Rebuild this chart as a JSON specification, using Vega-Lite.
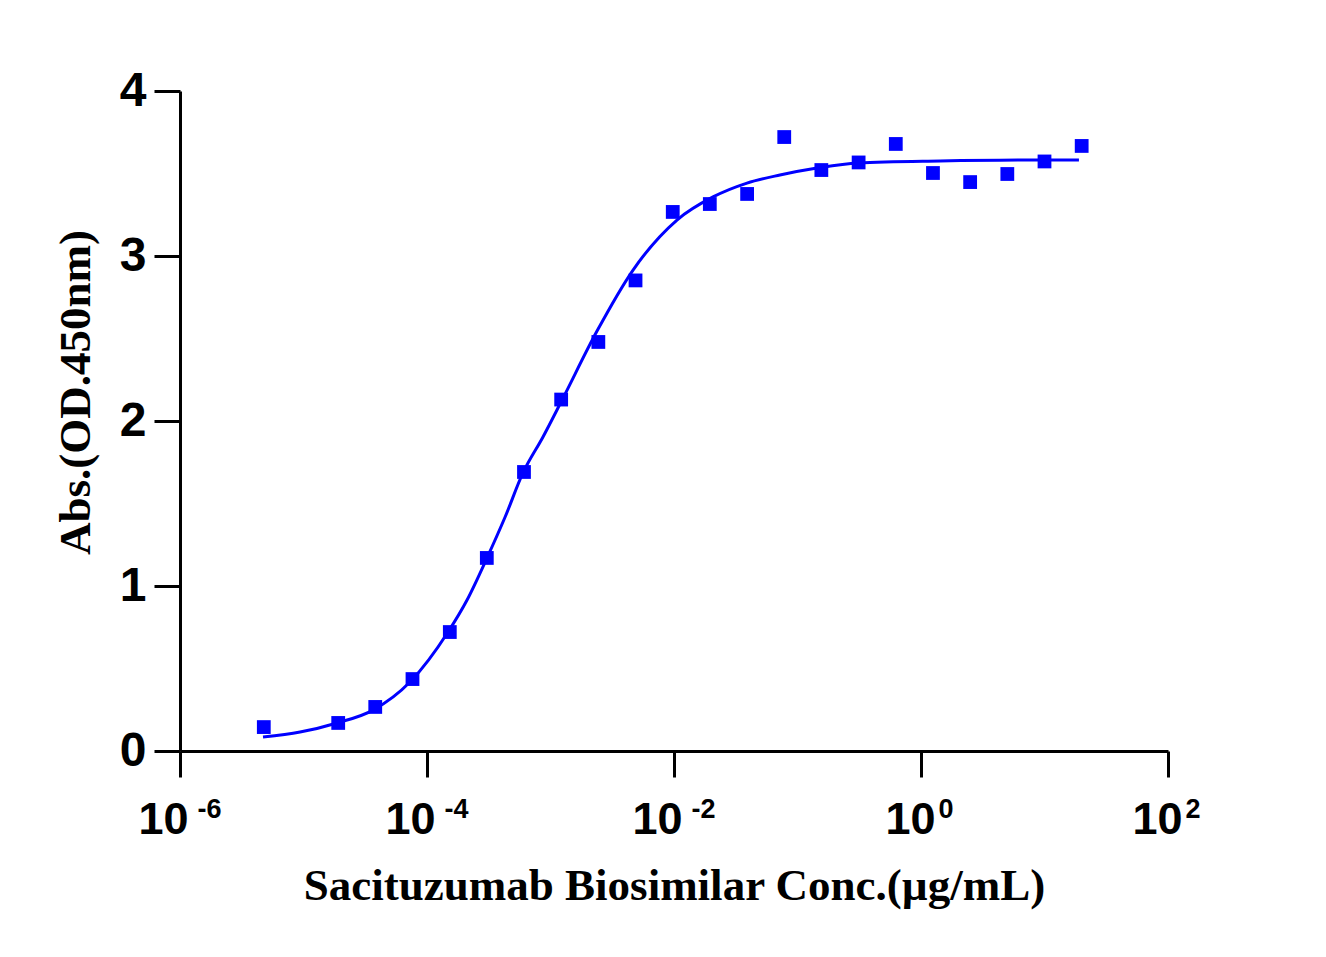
{
  "$schema": "https://vega.github.io/schema/vega-lite/v6.json",
  "description": "Sacituzumab biosimilar ELISA binding curve",
  "width": 988,
  "height": 660,
  "autosize": {"type": "none"},
  "padding": {"left": 180, "top": 91, "right": 158, "bottom": 206},
  "background": "white",
  "datasets": {
    "points": [
      {"conc": 4.77e-6, "od": 0.145},
      {"conc": 1.91e-5, "od": 0.170},
      {"conc": 3.81e-5, "od": 0.267},
      {"conc": 7.63e-5, "od": 0.436},
      {"conc": 1.53e-4, "od": 0.721},
      {"conc": 3.05e-4, "od": 1.170},
      {"conc": 6.10e-4, "od": 1.691},
      {"conc": 1.22e-3, "od": 2.130},
      {"conc": 2.44e-3, "od": 2.479},
      {"conc": 4.88e-3, "od": 2.852},
      {"conc": 9.77e-3, "od": 3.267},
      {"conc": 0.0195, "od": 3.315},
      {"conc": 0.0391, "od": 3.376},
      {"conc": 0.0781, "od": 3.721},
      {"conc": 0.156, "od": 3.521},
      {"conc": 0.3125, "od": 3.567},
      {"conc": 0.625, "od": 3.679},
      {"conc": 1.25, "od": 3.503},
      {"conc": 2.5, "od": 3.448},
      {"conc": 5, "od": 3.497},
      {"conc": 10, "od": 3.573},
      {"conc": 20, "od": 3.667}
    ],
    "curve": [
      {"conc": 4.70e-6, "od": 0.085},
      {"conc": 9.38e-6, "od": 0.115},
      {"conc": 1.87e-5, "od": 0.170},
      {"conc": 3.66e-5, "od": 0.248},
      {"conc": 7.28e-5, "od": 0.418},
      {"conc": 1.48e-4, "od": 0.721},
      {"conc": 2.11e-4, "od": 0.915},
      {"conc": 3.06e-4, "od": 1.170},
      {"conc": 4.29e-4, "od": 1.418},
      {"conc": 5.98e-4, "od": 1.685},
      {"conc": 8.69e-4, "od": 1.903},
      {"conc": 1.24e-3, "od": 2.127},
      {"conc": 2.38e-3, "od": 2.545},
      {"conc": 4.66e-3, "od": 2.915},
      {"conc": 0.01057, "od": 3.218},
      {"conc": 0.0207, "od": 3.358},
      {"conc": 0.0390, "od": 3.442},
      {"conc": 0.0721, "od": 3.491},
      {"conc": 0.144, "od": 3.533},
      {"conc": 0.309, "od": 3.564},
      {"conc": 1.426, "od": 3.576},
      {"conc": 9.20, "od": 3.582},
      {"conc": 19.0, "od": 3.582}
    ]
  },
  "encoding": {
    "y": {
      "field": "od",
      "type": "quantitative",
      "scale": {"domain": [0, 4], "nice": false, "zero": true},
      "axis": {
        "title": "Abs.(OD.450nm)",
        "values": [0, 1, 2, 3, 4],
        "labelFontSize": 48,
        "labelPadding": 8,
        "titleX": -91,
        "titleY": 301,
        "titleAngle": -90,
        "titleAlign": "center",
        "titleBaseline": "alphabetic"
      }
    }
  },
  "layer": [
    {
      "data": {"name": "curve"},
      "mark": {"type": "line", "color": "#0000ff", "strokeWidth": 3, "interpolate": "monotone"},
      "encoding": {
        "x": {
          "field": "conc",
          "type": "quantitative",
          "scale": {"type": "log", "domain": [1e-6, 100], "nice": false},
          "axis": {
            "orient": "bottom",
            "title": "Sacituzumab Biosimilar Conc.(µg/mL)",
            "values": [1e-6, 1e-4, 1e-2, 1, 100],
            "labelExpr": "'10'",
            "labelFontSize": 45,
            "labelAlign": "center",
            "labelOffset": {"condition": {"test": "datum.value >= 0.1", "value": -11}, "value": -17},
            "labelBaseline": "alphabetic",
            "labelPadding": 56,
            "titleY": 148,
            "titleBaseline": "alphabetic"
          }
        }
      }
    },
    {
      "data": {"name": "points"},
      "mark": {"type": "square", "color": "#0000ff", "filled": true, "opacity": 1, "size": 190},
      "encoding": {
        "x": {
          "field": "conc",
          "type": "quantitative",
          "scale": {"type": "log", "domain": [1e-6, 100], "nice": false},
          "axis": {
            "orient": "bottom",
            "title": null,
            "domain": false,
            "ticks": false,
            "values": [1e-6, 1e-4, 1e-2, 1, 100],
            "labelExpr": "datum.value < 1e-5 ? '-6' : datum.value < 1e-3 ? '-4' : datum.value < 0.1 ? '-2' : datum.value < 10 ? '0' : '2'",
            "labelFontSize": 27,
            "labelAlign": "left",
            "labelOffset": 17,
            "labelBaseline": "alphabetic",
            "labelPadding": 66
          }
        }
      }
    }
  ],
  "resolve": {"axis": {"x": "independent"}},
  "config": {
    "view": {"stroke": null},
    "axis": {
      "grid": false,
      "domainColor": "black",
      "domainWidth": 3,
      "tickColor": "black",
      "tickWidth": 3,
      "tickSize": 26,
      "labelColor": "black",
      "labelFont": "Liberation Sans",
      "labelFontWeight": "bold",
      "labelFlush": false,
      "labelOverlap": false,
      "titleColor": "black",
      "titleFont": "Liberation Serif",
      "titleFontWeight": "bold",
      "titleFontSize": 45
    }
  }
}
